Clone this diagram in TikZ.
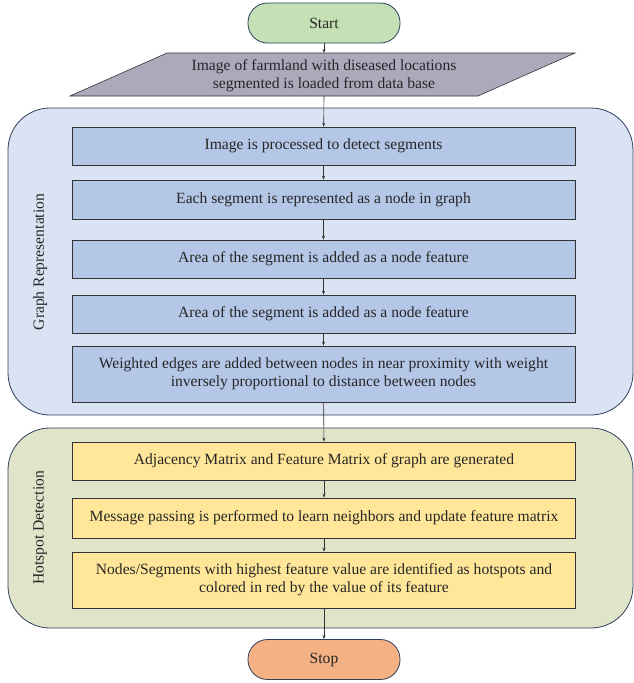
\documentclass[tikz,border=0pt]{standalone}
\usepackage{fontspec}
\setmainfont{Liberation Serif}
\usetikzlibrary{arrows.meta}
\definecolor{startgreen}{HTML}{C5E0B4}
\definecolor{stoporange}{HTML}{F4B183}
\definecolor{loadgray}{HTML}{ACA9BC}
\definecolor{graphbg}{HTML}{DAE3F3}
\definecolor{graphbox}{HTML}{B4C7E7}
\definecolor{hotbg}{HTML}{E0E4C8}
\definecolor{hotbox}{HTML}{FFE699}
\definecolor{edgeblue}{HTML}{2E3F5C}
\begin{document}
\begin{tikzpicture}[x=1pt,y=-1pt,
  txt/.style={font=\fontsize{15.6}{18}\selectfont,align=center,text=black!85},
  terminal/.style={txt,draw=edgeblue,line width=0.8pt,rounded corners=19.5pt,minimum width=152pt,minimum height=40pt},
  gbox/.style={txt,draw=black!80,line width=0.6pt,fill=graphbox,minimum width=503pt},
  hbox/.style={txt,draw=black!80,line width=0.6pt,fill=hotbox,minimum width=503pt},
  panel/.style={draw=edgeblue,line width=0.8pt,rounded corners=42pt},
  flow/.style={draw=black!80,line width=0.6pt,-{Stealth[length=4pt,width=3pt]}}]
\useasboundingbox (0,0) rectangle (634,683);
% containers
\filldraw[panel,fill=graphbg] (8,108) rectangle (633,415);
\filldraw[panel,fill=hotbg] (8,428) rectangle (633,628);
\node[txt,rotate=90] (graphlbl) at (40,262) {Graph Representation};
\node[txt,rotate=90] (hotlbl) at (40,528) {Hotspot Detection};
% start and input
\node[terminal,fill=startgreen] (start) at (324,23) {Start};
\coordinate (loadtop) at (324,53);
\coordinate (loadbot) at (324,96);
\filldraw[draw=black!80,line width=0.6pt,fill=loadgray] (167,53) -- (575,53) -- (478,96) -- (70,96) -- cycle;
\node[txt] (load) at (324,75.5) {Image of farmland with diseased locations\\segmented is loaded from data base};
% graph representation
\node[gbox,minimum height=38pt] (detect) at (323.5,146) {Image is processed to detect segments};
\node[gbox,minimum height=39pt] (nodes) at (323.5,199.5) {Each segment is represented as a node in graph};
\node[gbox,minimum height=38pt] (area1) at (323.5,259) {Area of the segment is added as a node feature};
\node[gbox,minimum height=38pt] (area2) at (323.5,314) {Area of the segment is added as a node feature};
\node[gbox,minimum height=56pt] (edges) at (323.5,374) {Weighted edges are added between nodes in near proximity with weight\\inversely proportional to distance between nodes};
% hotspot detection
\node[hbox,minimum height=38pt] (matrix) at (324,461) {Adjacency Matrix and Feature Matrix of graph are generated};
\node[hbox,minimum height=40pt] (passing) at (324,518) {Message passing is performed to learn neighbors and update feature matrix};
\node[hbox,minimum height=56pt] (hotspot) at (324,580) {Nodes/Segments with highest feature value are identified as hotspots and\\colored in red by the value of its feature};
\node[terminal,fill=stoporange] (stop) at (324,659.5) {Stop};
% connectors
\draw[flow] (start) -- (loadtop);
\draw[flow] (loadbot) -- (detect);
\draw[flow] (detect) -- (nodes);
\draw[flow] (nodes) -- (area1);
\draw[flow] (area1) -- (area2);
\draw[flow] (area2) -- (edges);
\draw[flow] (edges) -- (matrix);
\draw[flow] (matrix) -- (passing);
\draw[flow] (passing) -- (hotspot);
\draw[flow] (hotspot) -- (stop);
\end{tikzpicture}
\end{document}
